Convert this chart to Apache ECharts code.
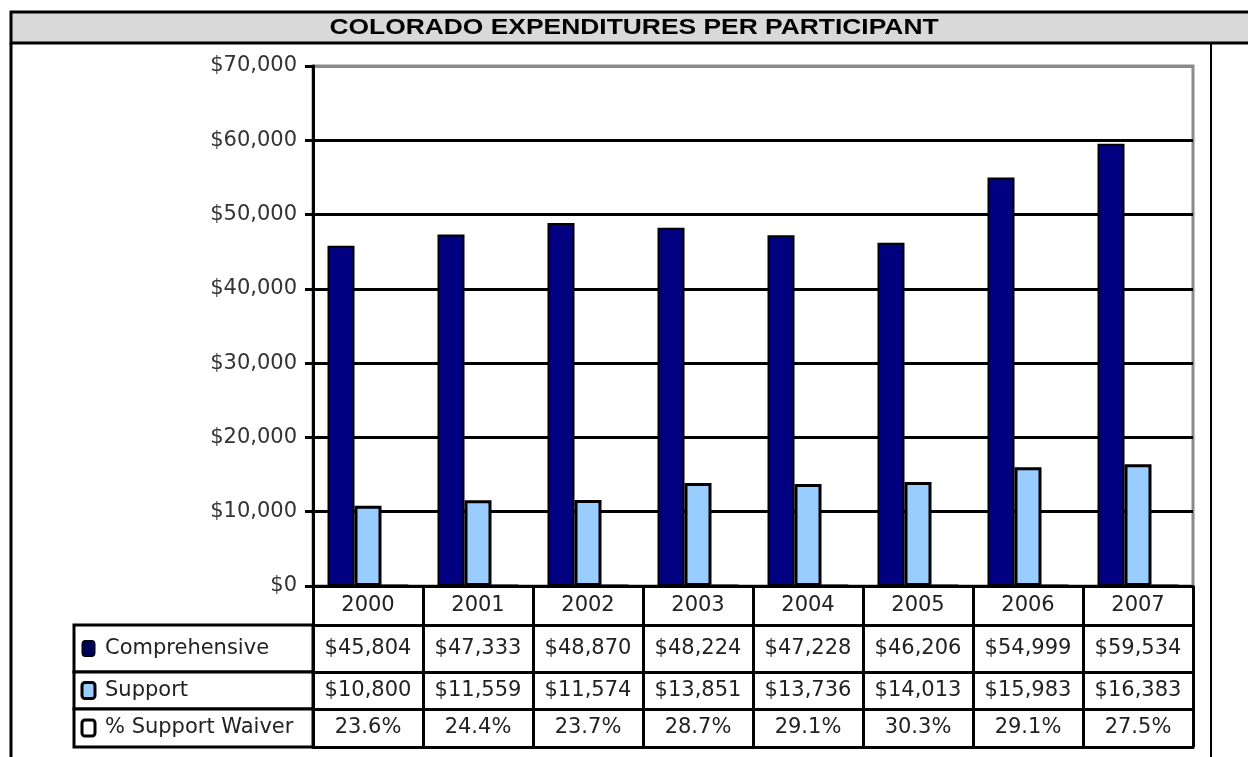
<!DOCTYPE html>
<html lang="en">
<head>
    <meta charset="UTF-8">
    <title>Colorado Expenditures Per Participant</title>
    <script src="https://cdn.jsdelivr.net/npm/echarts@6/dist/echarts.min.js" type="text/javascript"></script>
    <style>
        html, body { margin: 0; padding: 0; background: #fff; }
        #expenditures { width: 1248px; height: 757px; }
    </style>
</head>
<body>
<div id="expenditures"></div>

<script>
    // data
    var chartTitle = 'COLORADO EXPENDITURES PER PARTICIPANT';
    var years = ['2000', '2001', '2002', '2003', '2004', '2005', '2006', '2007'];
    var seriesNames = ['Comprehensive', 'Support', '% Support Waiver'];
    var comprehensive = [45804, 47333, 48870, 48224, 47228, 46206, 54999, 59534];
    var support = [10800, 11559, 11574, 13851, 13736, 14013, 15983, 16383];
    var supportWaiver = [23.6, 24.4, 23.7, 28.7, 29.1, 30.3, 29.1, 27.5];
    var yMin = 0, yMax = 70000, yStep = 10000;

    var seriesColors = ['#000080', '#99ccff', '#ffffff'];
    var iconColors = ['#000055', '#99ccff', '#ffffff'];

    function money(v) {
        return '$' + v.toLocaleString('en-US');
    }
    function percent(v) {
        return v.toFixed(1) + '%';
    }

    // plot box
    var gridLeft = 313, gridTop = 66, gridRight = 1193, gridBottom = 586;
    var font = 'DejaVu Sans';
    var fontSize = 21;

    // data table under the plot: one x axis per row
    var tableRows = [
        {labels: years, height: 39},
        {labels: comprehensive.map(money), height: 47},
        {labels: support.map(money), height: 37},
        {labels: supportWaiver.map(percent), height: 38}
    ];

    var xAxes = [];
    var offset = 0;
    tableRows.forEach(function (row) {
        xAxes.push({
            type: 'category',
            data: years,
            position: 'bottom',
            offset: offset,
            axisLine: {show: true, lineStyle: {color: '#000', width: 3}},
            axisTick: {show: true, interval: 0, alignWithLabel: false, length: row.height,
                lineStyle: {color: '#000', width: 3}},
            axisLabel: {
                interval: 0,
                margin: row.height / 2,
                verticalAlign: 'middle',
                fontSize: fontSize,
                fontFamily: font,
                color: '#222',
                formatter: function (v, i) { return row.labels[i]; }
            },
            splitLine: {show: false}
        });
        offset += row.height;
    });
    // closing line of the table
    xAxes.push({
        type: 'category',
        data: years,
        position: 'bottom',
        offset: offset,
        axisLine: {show: true, lineStyle: {color: '#000', width: 3}},
        axisTick: {show: false},
        axisLabel: {show: false}
    });

    // gray top line at the max tick, black for the rest
    var splitColors = [];
    for (var t = yMin; t <= yMax; t += yStep) {
        splitColors.push(t === yMax ? '#8a8a8a' : '#000');
    }

    // frame, title bar, and legend keys in the left column of the table
    var graphics = [
        {type: 'rect', shape: {x: 11, y: 12, width: 1260, height: 31},
            style: {fill: '#d9d9d9', stroke: '#000', lineWidth: 3}},
        {type: 'line', shape: {x1: 11, y1: 43, x2: 11, y2: 760},
            style: {stroke: '#000', lineWidth: 3}},
        {type: 'line', shape: {x1: 1211, y1: 43, x2: 1211, y2: 760},
            style: {stroke: '#000', lineWidth: 2}},
        {type: 'text', x: 634, y: 28, scaleX: 1.2,
            style: {text: chartTitle, font: 'bold 22px "Liberation Sans"', fill: '#000',
                align: 'center', verticalAlign: 'middle'}}
    ];
    var rowTop = gridBottom + tableRows[0].height;
    for (var s = 0; s < seriesNames.length; s++) {
        var h = tableRows[s + 1].height;
        var mid = rowTop + h / 2;
        graphics.push({type: 'rect', shape: {x: 74, y: rowTop, width: gridLeft - 74, height: h},
            style: {fill: '#fff', stroke: '#000', lineWidth: 3}});
        graphics.push({type: 'rect', shape: {x: 82, y: mid - 8, width: 13, height: 16, r: 3},
            style: {fill: iconColors[s], stroke: '#000', lineWidth: s === 0 ? 1 : 3}});
        graphics.push({type: 'text', x: 105, y: mid,
            style: {text: seriesNames[s], font: fontSize + 'px "' + font + '"', fill: '#222',
                align: 'left', verticalAlign: 'middle'}});
        rowTop += h;
    }

    var values = [comprehensive, support, supportWaiver];
    var series = values.map(function (arr, i) {
        return {
            name: seriesNames[i],
            type: 'bar',
            data: arr,
            barWidth: 27,
            barGap: '0%',
            silent: true,
            itemStyle: {
                color: seriesColors[i],
                borderColor: '#000',
                borderWidth: i === 0 ? 2 : 3
            }
        };
    });

    var exp_chart = echarts.init(document.getElementById('expenditures'));
    exp_chart.setOption({
        backgroundColor: '#fff',
        animation: false,
        grid: {
            left: gridLeft,
            top: gridTop,
            width: gridRight - gridLeft,
            height: gridBottom - gridTop,
            show: true,
            backgroundColor: '#fff',
            borderColor: '#8a8a8a',
            borderWidth: 3,
            containLabel: false,
            outerBoundsMode: 'none'
        },
        xAxis: xAxes,
        yAxis: {
            type: 'value',
            min: yMin,
            max: yMax,
            interval: yStep,
            axisLine: {show: true, lineStyle: {color: '#000', width: 3}},
            axisTick: {show: true, length: 8, lineStyle: {color: '#000', width: 3}},
            axisLabel: {
                margin: 16,
                fontSize: fontSize,
                fontFamily: font,
                color: '#333',
                formatter: money
            },
            splitLine: {show: true, lineStyle: {color: splitColors, width: 3}}
        },
        series: series,
        graphic: graphics
    });
</script>
</body>
</html>
